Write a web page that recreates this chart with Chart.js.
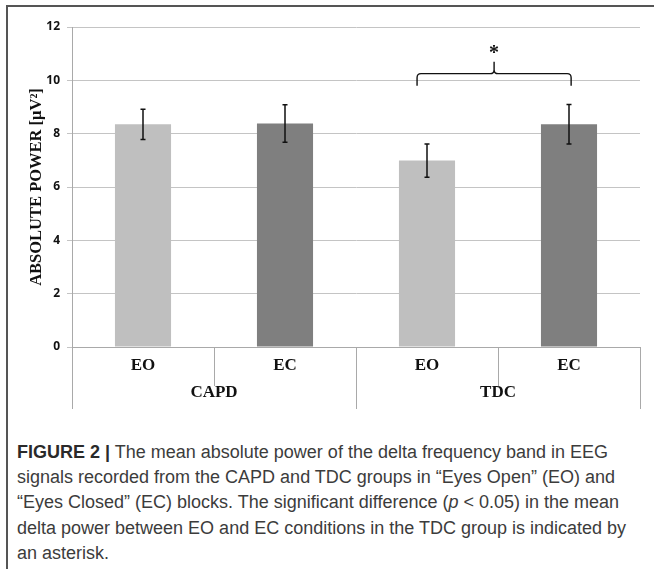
<!DOCTYPE html>
<html><head><meta charset="utf-8">
<script src="https://cdn.jsdelivr.net/npm/chart.js@4.4.1/dist/chart.umd.min.js"></script>
<style>
html,body{margin:0;padding:0;background:#fff;width:654px;height:569px;overflow:hidden}
#frame{position:absolute;left:6px;top:5px;width:660px;height:580px;border-left:2px solid #555;border-top:2px solid #555}
#wrap{position:absolute;left:0;top:0;width:654px;height:420px}
#cap{position:absolute;left:17px;top:440px;width:636px;font-family:"Liberation Sans",Arial,sans-serif;font-size:18px;line-height:25.2px;color:#3c3c3c;white-space:nowrap}
#cap b{color:#2a2a2a}
</style></head><body>
<div id="frame"></div>
<div id="wrap"><canvas id="c" width="654" height="420"></canvas></div>
<div id="cap"><b>FIGURE 2 |</b> The mean absolute power of the delta frequency band in EEG<br>signals recorded from the CAPD and TDC groups in “Eyes Open” (EO) and<br>“Eyes Closed” (EC) blocks. The significant difference (<i>p</i> &lt; 0.05) in the mean<br>delta power between EO and EC conditions in the TDC group is indicated by<br>an asterisk.</div>
<script>
const groups = ['CAPD', 'TDC'];
const conditions = ['EO', 'EC', 'EO', 'EC'];
const meanPower = [8.35, 8.38, 6.99, 8.35];
const errPower = [0.57, 0.70, 0.62, 0.74];
const barColors = ['#bfbfbf', '#7f7f7f', '#bfbfbf', '#7f7f7f'];
const significance = { from: 2, to: 3, label: '*' };

const AXIS_GREY = '#a9a9a9';
const SERIF = '"Liberation Serif", "Times New Roman", serif';

const extras = {
  id: 'extras',
  afterDatasetsDraw(chart) {
    const ctx = chart.ctx, x = chart.scales.x, y = chart.scales.y;
    ctx.save();
    ctx.strokeStyle = '#111';
    ctx.lineWidth = 1.5;
    meanPower.forEach((m, i) => {
      const px = x.getPixelForValue(i);
      const t = y.getPixelForValue(m + errPower[i]);
      const b = y.getPixelForValue(m - errPower[i]);
      ctx.beginPath();
      ctx.moveTo(px, t); ctx.lineTo(px, b);
      ctx.moveTo(px - 2.5, t); ctx.lineTo(px + 2.5, t);
      ctx.moveTo(px - 2.5, b); ctx.lineTo(px + 2.5, b);
      ctx.stroke();
    });
    const xl = x.getPixelForValue(significance.from - 0.07);
    const xr = x.getPixelForValue(significance.to + 0.015);
    const xm = (xl + xr) / 2;
    const yh = y.getPixelForValue(10.25);
    const ye = y.getPixelForValue(9.8);
    const yp = y.getPixelForValue(10.7);
    const r = 4;
    ctx.lineWidth = 1.4;
    ctx.beginPath();
    ctx.moveTo(xl, ye);
    ctx.lineTo(xl, yh + r);
    ctx.quadraticCurveTo(xl, yh, xl + r, yh);
    ctx.lineTo(xm - r, yh);
    ctx.quadraticCurveTo(xm, yh, xm, yh - r);
    ctx.lineTo(xm, yp);
    ctx.moveTo(xm, yh - r);
    ctx.quadraticCurveTo(xm, yh, xm + r, yh);
    ctx.lineTo(xr - r, yh);
    ctx.quadraticCurveTo(xr, yh, xr, yh + r);
    ctx.lineTo(xr, ye);
    ctx.stroke();
    ctx.fillStyle = '#111';
    ctx.font = 'bold 20px ' + SERIF;
    ctx.textAlign = 'center';
    ctx.textBaseline = 'middle';
    ctx.fillText(significance.label, xm, y.getPixelForValue(11.0));
    ctx.restore();
  },
  afterDraw(chart) {
    const ctx = chart.ctx, x = chart.scales.x;
    const bottom = chart.chartArea.bottom;
    ctx.save();
    ctx.strokeStyle = AXIS_GREY;
    ctx.lineWidth = 1;
    for (let i = 0; i <= conditions.length; i++) {
      const px = Math.round(x.getPixelForValue(i - 0.5)) + 0.5;
      const len = (i % 2 === 0) ? 62 : 39;
      ctx.beginPath();
      ctx.moveTo(px, bottom);
      ctx.lineTo(px, bottom + len);
      ctx.stroke();
    }
    ctx.fillStyle = '#111';
    ctx.font = 'bold 17px ' + SERIF;
    ctx.textAlign = 'center';
    ctx.textBaseline = 'middle';
    conditions.forEach((c, i) => ctx.fillText(c, x.getPixelForValue(i), bottom + 19));
    groups.forEach((g, k) => ctx.fillText(g, x.getPixelForValue(2 * k + 0.5), bottom + 46));
    ctx.restore();
  }
};

new Chart(document.getElementById('c'), {
  type: 'bar',
  data: {
    labels: conditions,
    datasets: [{
      data: meanPower,
      backgroundColor: barColors,
      borderWidth: 0,
      barPercentage: 0.395,
      categoryPercentage: 1
    }]
  },
  options: {
    responsive: false,
    animation: false,
    devicePixelRatio: 1,
    layout: { padding: { top: 27, right: 14, bottom: 0, left: 0 } },
    plugins: { legend: { display: false }, tooltip: { enabled: false } },
    scales: {
      x: {
        type: 'category',
        offset: true,
        grid: { display: false },
        border: { display: true, color: AXIS_GREY, width: 1 },
        ticks: { display: false },
        afterFit(s) { s.height = 73; }
      },
      y: {
        min: 0, max: 12,
        ticks: { stepSize: 2, color: '#111', padding: 7, font: { family: '"Open Sans", sans-serif', weight: 'bold', size: 12 } },
        grid: { color: '#c4c4c4', lineWidth: 1, tickLength: 5 },
        border: { display: true, color: AXIS_GREY, width: 1 },
        title: { display: true, text: 'ABSOLUTE POWER [μV²]', color: '#111', padding: { top: 27, bottom: 0 }, font: { family: SERIF, weight: 'bold', size: 16.5 } },
        afterFit(s) { s.width = 72; }
      }
    }
  },
  plugins: [extras]
});
</script>
</body></html>
